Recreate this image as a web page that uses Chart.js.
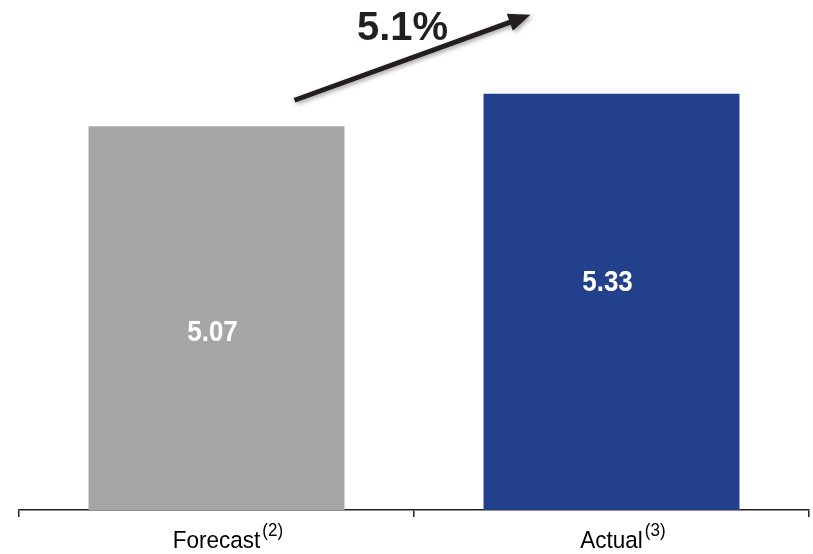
<!DOCTYPE html>
<html>
<head>
<meta charset="utf-8">
<script src="https://cdn.jsdelivr.net/npm/chart.js@4"></script>
<style>
  html, body { margin: 0; padding: 0; background: #fff; }
  #wrap { width: 813px; height: 554px; }
</style>
</head>
<body>
<div id="wrap"><canvas id="c" width="813" height="554"></canvas></div>
<script>
// Forecast vs. actual result
const categories = ['Forecast', 'Actual'];
const footnotes = ['(2)', '(3)'];
const values = [5.07, 5.33];
const barColors = ['#a6a6a6', '#22408b'];

const INK = '#231f20';
const FONT = '"Liberation Sans", Arial, Helvetica, sans-serif';

// Draws text with a slight vertical stretch (tall, narrow lettering)
function tallText(ctx, txt, x, y, font, sy, align, baseline, color) {
  ctx.save();
  ctx.translate(x, y);
  ctx.scale(1, sy);
  ctx.font = font;
  ctx.textAlign = align;
  ctx.textBaseline = baseline;
  ctx.fillStyle = color;
  ctx.fillText(txt, 0, 0);
  ctx.restore();
}

const decorations = {
  id: 'decorations',
  afterDatasetsDraw(chart, args, opts) {
    const ctx = chart.ctx;
    const meta = chart.getDatasetMeta(0);
    const xScale = chart.scales.x;
    const floor = chart.chartArea.bottom;

    // value labels inside the bars
    meta.data.forEach((bar, i) => {
      const v = chart.data.datasets[0].data[i];
      const y = bar.y + opts.labelFrac[i] * (floor - bar.y);
      tallText(ctx, v.toFixed(2), bar.x - 4, y, 'bold 26px ' + FONT, 1.1, 'center', 'middle', '#ffffff');
    });

    // category labels with footnote markers
    categories.forEach((cat, i) => {
      const cx = xScale.getPixelForValue(i);
      const base = floor + 38;
      ctx.save();
      ctx.font = '22.5px ' + FONT;
      const w = ctx.measureText(cat).width;
      ctx.restore();
      tallText(ctx, cat, cx, base, '22.5px ' + FONT, 1.1, 'center', 'alphabetic', '#000000');
      tallText(ctx, footnotes[i], cx + w / 2 + 2, base - 12, '17px ' + FONT, 1.1, 'left', 'alphabetic', '#000000');
    });

    // growth arrow between the two bars
    const b0 = meta.data[0], b1 = meta.data[1];
    const x0 = b0.x + b0.width / 2 - 50, y0 = b0.y - 26;
    const x1 = b1.x - b1.width / 2 + 47, y1 = b1.y - 79;
    const ang = Math.atan2(y1 - y0, x1 - x0);
    const headLen = 22, headW = 9;
    const hx = x1 - headLen * Math.cos(ang), hy = y1 - headLen * Math.sin(ang);

    ctx.save();
    ctx.shadowColor = 'rgba(0,0,0,0.35)';
    ctx.shadowBlur = 4;
    ctx.shadowOffsetX = 2;
    ctx.shadowOffsetY = 2;
    ctx.strokeStyle = INK;
    ctx.fillStyle = INK;
    ctx.lineWidth = 5;
    ctx.lineCap = 'butt';
    ctx.beginPath();
    ctx.moveTo(x0, y0);
    ctx.lineTo(hx + 2 * Math.cos(ang), hy + 2 * Math.sin(ang));
    ctx.stroke();
    ctx.beginPath();
    ctx.moveTo(x1, y1);
    ctx.lineTo(hx + headW * Math.sin(ang), hy - headW * Math.cos(ang));
    ctx.lineTo(hx - headW * Math.sin(ang), hy + headW * Math.cos(ang));
    ctx.closePath();
    ctx.fill();
    ctx.restore();

    // percentage change from forecast to actual
    const pct = (values[1] - values[0]) / values[0] * 100;
    ctx.save();
    ctx.font = 'bold 40px ' + FONT;
    ctx.textAlign = 'center';
    ctx.textBaseline = 'alphabetic';
    ctx.fillStyle = INK;
    ctx.fillText(pct.toFixed(1) + '%', (x0 + x1) / 2 - 10, 40);
    ctx.restore();
  }
};

new Chart(document.getElementById('c'), {
  type: 'bar',
  data: {
    labels: categories,
    datasets: [{
      data: values,
      backgroundColor: barColors,
      borderWidth: 0,
      barPercentage: 0.648,
      categoryPercentage: 1
    }]
  },
  options: {
    responsive: false,
    animation: false,
    events: [],
    layout: { padding: { top: 10, bottom: 37, left: 19, right: 4 } },
    plugins: {
      legend: { display: false },
      tooltip: { enabled: false },
      decorations: { labelFrac: [0.54, 0.455] }
    },
    scales: {
      x: {
        grid: {
          offset: true,
          drawOnChartArea: false,
          drawTicks: true,
          tickLength: 7,
          color: INK,
          lineWidth: 1.5
        },
        border: { display: true, color: INK, width: 1.5 },
        ticks: { display: false }
      },
      y: {
        display: false,
        min: 2,
        max: 6
      }
    }
  },
  plugins: [decorations]
});
</script>
</body>
</html>
